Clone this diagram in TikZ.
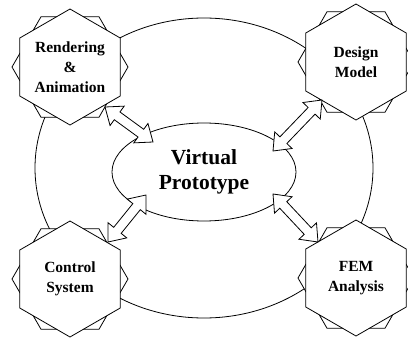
\documentclass[tikz,border=0pt]{standalone}
\usepackage{fontspec}
\setmainfont{Liberation Serif}
\usetikzlibrary{shapes.geometric,calc}
\tikzset{
  ln/.style={line width=0.8pt, line join=miter},
  hexback/.style={ln, regular polygon, regular polygon sides=6, minimum size=116pt,
    inner sep=0pt, outer sep=0pt, draw, fill=white},
  hexfront/.style={hexback, shape border rotate=30,
    font=\bfseries\fontsize{15.5}{20}\selectfont, align=center},
  ring/.style={ln, ellipse, draw, inner sep=0pt},
  arrowbody/.style={ln, draw, fill=white},
}
\newcommand{\dblarr}[2]{%
  \draw[arrowbody] (#1)
    -- ($(#1)!15pt!(#2)!12pt!90:(#2)$)
    -- ($(#1)!15pt!(#2)!4.8pt!90:(#2)$)
    -- ($(#2)!15pt!(#1)!4.8pt!-90:(#1)$)
    -- ($(#2)!15pt!(#1)!12pt!-90:(#1)$)
    -- (#2)
    -- ($(#2)!15pt!(#1)!12pt!90:(#1)$)
    -- ($(#2)!15pt!(#1)!4.8pt!90:(#1)$)
    -- ($(#1)!15pt!(#2)!4.8pt!-90:(#2)$)
    -- ($(#1)!15pt!(#2)!12pt!-90:(#2)$)
    -- cycle;}
\begin{document}
\begin{tikzpicture}[x=1pt,y=-1pt]
\useasboundingbox (0,0) rectangle (408,338);
% outer ring
\node[ring, minimum width=338pt, minimum height=300pt] (outer) at (204,168) {};
% hexagons: back (flat-top) then front (pointy-top)
\node[hexback] (renb) at (70,67) {};
\node[hexfront] (ren) at (70,67) {Rendering\\\&\\Animation};
\node[hexback] (desb) at (356,62) {};
\node[hexfront] (des) at (356,62) {Design\\Model};
\node[hexback] (conb) at (70,279) {};
\node[hexfront] (con) at (70,279) {Control\\System};
\node[hexback] (femb) at (356,278) {};
\node[hexfront] (fem) at (356,278) {FEM\\Analysis};
% centre
\node[ring, fill=white, minimum width=184pt, minimum height=98pt,
  font=\bfseries\fontsize{21.5}{25}\selectfont, align=center] (vp) at (204,172) {Virtual\\Prototype};
% arrow end points
\coordinate (a1s) at (105,107); \coordinate (a1e) at (153,142);
\coordinate (a2s) at (322,100); \coordinate (a2e) at (273,151);
\coordinate (a3s) at (108,242); \coordinate (a3e) at (146,195);
\coordinate (a4s) at (318,242); \coordinate (a4e) at (273,194);
\dblarr{a1s}{a1e}
\dblarr{a2s}{a2e}
\dblarr{a3s}{a3e}
\dblarr{a4s}{a4e}
\end{tikzpicture}
\end{document}
